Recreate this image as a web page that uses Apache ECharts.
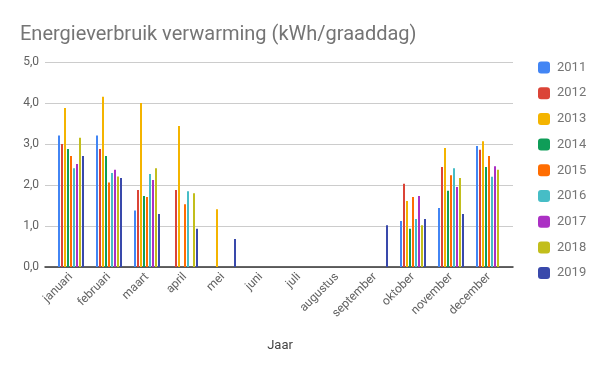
<!DOCTYPE html>
<html><head><meta charset="utf-8">
<script src="https://cdn.jsdelivr.net/npm/echarts@6/dist/echarts.min.js"></script>
<style>html,body{margin:0;padding:0;background:#fff}#c{width:600px;height:371px}</style>
</head><body><div id="c"></div>
<script>
const months = ['januari','februari','maart','april','mei','juni','juli','augustus','september','oktober','november','december'];
const years = ['2011','2012','2013','2014','2015','2016','2017','2018','2019'];
const colors = ['#4285F4','#DB4437','#F4B400','#0F9D58','#FF6D01','#46BDC6','#AB30C4','#C2BE1C','#3949AB'];
const v2011 = [3.21,3.21,1.38,null,null,null,null,null,null,1.12,1.44,2.95];
const v2012 = [3.00,2.88,1.88,1.88,null,null,null,null,null,2.03,2.44,2.86];
const v2013 = [3.88,4.15,4.00,3.44,1.41,null,null,null,null,1.61,2.90,3.07];
const v2014 = [2.88,2.71,1.73,null,null,null,null,null,null,0.93,1.86,2.44];
const v2015 = [2.71,2.06,1.71,1.53,null,null,null,null,null,1.71,2.24,2.71];
const v2016 = [2.41,2.29,2.27,1.85,null,null,null,null,null,1.17,2.41,2.20];
const v2017 = [2.51,2.37,2.12,null,null,null,null,null,null,1.73,1.95,2.46];
const v2018 = [3.15,2.21,2.41,1.80,null,null,null,null,null,1.02,2.17,2.37];
const v2019 = [2.71,2.17,1.29,0.93,0.68,null,null,null,1.02,1.17,1.29,null];
const values = [v2011,v2012,v2013,v2014,v2015,v2016,v2017,v2018,v2019];
const yTicks = [0,1,2,3,4,5];

const chart = echarts.init(document.getElementById('c'), null, {renderer:'canvas'});
const font = 'Roboto';
chart.setOption({
  animation:false,
  textStyle:{fontFamily:font},
  title:{text:'Energieverbruik verwarming (kWh/graaddag)', left:15, top:20,
    textStyle:{fontFamily:font, fontSize:20, fontWeight:'normal', color:'#757575'}},
  legend:{orient:'vertical', left:533, top:56, itemWidth:12, itemHeight:12, itemGap:12.7,
    icon:'roundRect', data:years,
    textStyle:{fontFamily:font, fontSize:13, color:'#757575', padding:[0,0,0,2]}},
  grid:[
    {left:45, right:87, top:62, bottom:104, containLabel:false},
    {left:52, right:92, top:62, bottom:104, containLabel:false}
  ],
  xAxis:[
    {type:'value', gridIndex:0, min:0, max:1, show:true,
      axisLine:{show:true, lineStyle:{color:'#333', width:1.5}}, axisTick:{show:false},
      axisLabel:{show:false}, splitLine:{show:false}},
    {type:'category', gridIndex:1, data:months,
      axisLine:{show:false}, axisTick:{show:false},
      axisLabel:{rotate:45, fontFamily:font, fontSize:12, color:'#616161', margin:8, interval:0},
      name:'Jaar', nameLocation:'middle', nameGap:72,
      nameTextStyle:{fontFamily:font, fontSize:13, color:'#444'}}
  ],
  yAxis:[
    {type:'value', gridIndex:0, min:0, max:5, interval:1,
      axisLine:{show:false}, axisTick:{show:false},
      splitLine:{lineStyle:{color:'#cccccc'}},
      axisLabel:{fontFamily:font, fontSize:12, color:'#616161', margin:6,
        formatter:v=>v.toFixed(1).replace('.',',')}},
    {type:'value', gridIndex:1, min:0, max:5, interval:1, show:false}
  ],
  series: years.map((y,i)=>({
    name:y, type:'bar', xAxisIndex:1, yAxisIndex:1, data:values[i],
    barWidth:2, barGap:'50%', itemStyle:{color:colors[i]}
  }))
});
</script></body></html>
